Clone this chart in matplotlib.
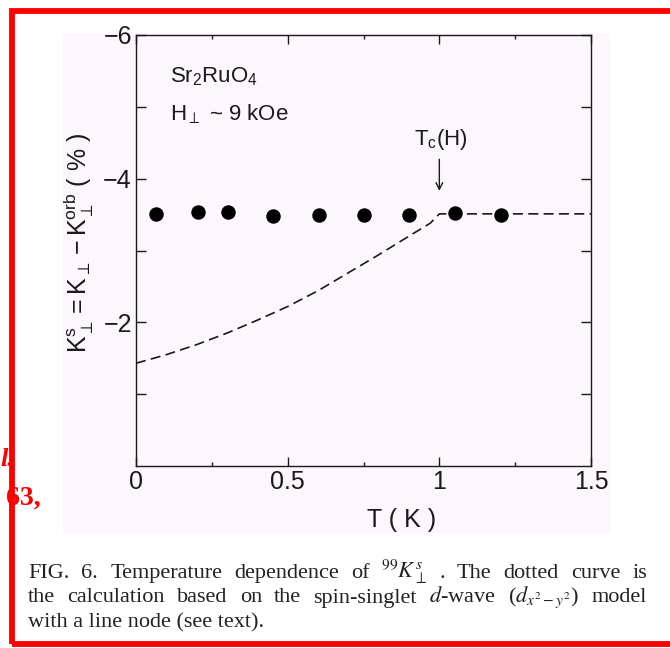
import matplotlib
matplotlib.use("Agg")
import matplotlib.pyplot as plt
from matplotlib.patches import Rectangle
from matplotlib.ticker import MultipleLocator, FixedLocator

plt.rcParams['font.family'] = ['Liberation Sans', 'DejaVu Sans']
plt.rcParams['mathtext.fontset'] = 'custom'
plt.rcParams['mathtext.rm'] = 'Liberation Sans'
plt.rcParams['mathtext.it'] = 'Liberation Sans'
plt.rcParams['mathtext.fallback'] = 'stixsans'

# measured points (T in K, K_perp^s in %)
T_data = [0.066, 0.203, 0.302, 0.452, 0.603, 0.752, 0.900, 1.051, 1.202]
K_data = [-3.51, -3.54, -3.53, -3.48, -3.50, -3.50, -3.50, -3.52, -3.49]

# d-wave calculation (dashed)
T_calc = [0.0, 0.1, 0.2, 0.3, 0.4, 0.5, 0.6, 0.7, 0.8, 0.9, 0.97, 1.0, 1.5]
K_calc = [-1.43, -1.55, -1.69, -1.85, -2.03, -2.22, -2.44, -2.69, -2.94, -3.20, -3.38, -3.51, -3.51]

x_ticks = [0, 0.5, 1, 1.5]
x_ticklabels = ['0', '0.5', '1', '1.5']
y_ticks = [-6, -4, -2]
y_ticklabels = ['\u22126', '\u22124', '\u22122']

caption = [
    r'FIG. 6. Temperature dependence of $^{99}K_{\perp}^{s}$ . The dotted curve is',
    r'the calculation based on the spin-singlet $d$-wave ($d_{x^2-y^2}$) model',
    'with a line node (see text).',
]

W, H = 670, 648
fig = plt.figure(figsize=(W / 100, H / 100), dpi=100)
fig.patch.set_facecolor('white')

# pinkish scan background behind the plot
fig.patches.append(Rectangle((63 / W, 1 - 533 / H), 547 / W, 500 / H,
                             transform=fig.transFigure, facecolor='#fcf7fc',
                             edgecolor='none', zorder=-5))

ax = fig.add_axes([136 / W, 1 - 466 / H, 455 / W, 431 / H])
ax.set_facecolor('none')
ax.set_zorder(2)
ink = '#1a1a1a'

ax.plot(T_calc, K_calc, color=ink, lw=1.2, linestyle=(0, (6, 3.2)))
ax.plot(T_data, K_data, 'o', color='black', markersize=9.4, zorder=3)

ax.set_xlim(0, 1.5)
ax.set_ylim(0, -6)
ax.xaxis.set_major_locator(FixedLocator(x_ticks))
ax.set_xticklabels(x_ticklabels)
ax.xaxis.set_minor_locator(MultipleLocator(0.25))
ax.yaxis.set_major_locator(FixedLocator(y_ticks))
ax.set_yticklabels(y_ticklabels)
ax.yaxis.set_minor_locator(FixedLocator([-5, -3, -1]))
ax.tick_params(which='both', direction='in', top=True, right=True,
               color=ink, width=1.0, labelsize=18, labelcolor=ink, pad=3)
ax.tick_params(axis='x', which='major', length=6.5)
ax.tick_params(axis='x', which='minor', length=3)
ax.tick_params(axis='y', which='both', length=7)
for s in ax.spines.values():
    s.set_linewidth(1.0)
    s.set_color(ink)

ax.text((402 - 136) / 455, (466 - 527) / 431, 'T ( K )', transform=ax.transAxes,
        ha='center', va='baseline', fontsize=18, color=ink)
ax.text((79 - 136) / 455, (466 - 243) / 431,
        r'$\mathregular{K_\perp^s = K_\perp - K_\perp^{orb}\ (\ \%\ )}$',
        transform=ax.transAxes, rotation=90, ha='center', va='center',
        fontsize=18, color=ink)

ax.text((170 - 136) / 455, (466 - 82) / 431, r'Sr$_2$RuO$_4$', transform=ax.transAxes,
        ha='left', va='baseline', fontsize=16, color=ink)
ax.text((170 - 136) / 455, (466 - 120) / 431, r'H$_\perp$ ~ 9 kOe', transform=ax.transAxes,
        ha='left', va='baseline', fontsize=16, color=ink)
ax.text(1.005, -4.47, r'T$_\mathregular{c}$(H)', ha='center', va='baseline',
        fontsize=16, color=ink)
ax.annotate('', xy=(1.0, -3.83), xytext=(1.0, -4.27),
            arrowprops=dict(arrowstyle='->', color=ink, lw=1.0,
                            shrinkA=0, shrinkB=0, mutation_scale=12))

# caption, justified like the journal page
fig.canvas.draw()
renderer = fig.canvas.get_renderer()
x0, x1 = 28, 647
baselines = [578, 602.5, 627]
cap_size = 16
for i, line in enumerate(caption):
    if i == 2:
        fig.text(x0 / W, 1 - baselines[i] / H, line, fontsize=cap_size,
                 family='Liberation Serif', color='#222222', va='baseline')
        continue
    words = line.split(' ')
    texts = [fig.text(0, 0, w, fontsize=cap_size, family='Liberation Serif',
                      math_fontfamily='stix', color='#222222', va='baseline')
             for w in words]
    widths = [t.get_window_extent(renderer).width for t in texts]
    space = (x1 - x0 - sum(widths)) / (len(words) - 1)
    x = x0
    for t, w in zip(texts, widths):
        t.set_position((x / W, 1 - baselines[i] / H))
        x += w + space

# red page border and page text at the margin
fig.patches.append(Rectangle((11.5 / W, 1 - 644 / H), 700 / W, (644 - 11) / H,
                             transform=fig.transFigure, fill=False,
                             edgecolor='red', lw=4.2, zorder=5))
fig.text(0 / W, 1 - 466 / H, 'l.', color='red', fontsize=19, family='Liberation Serif',
         weight='bold', style='italic', va='baseline')
fig.text(6 / W, 1 - 505 / H, '63,', color='red', fontsize=20, family='Liberation Serif',
         weight='bold', va='baseline')

fig.savefig('out.png', dpi=100)
